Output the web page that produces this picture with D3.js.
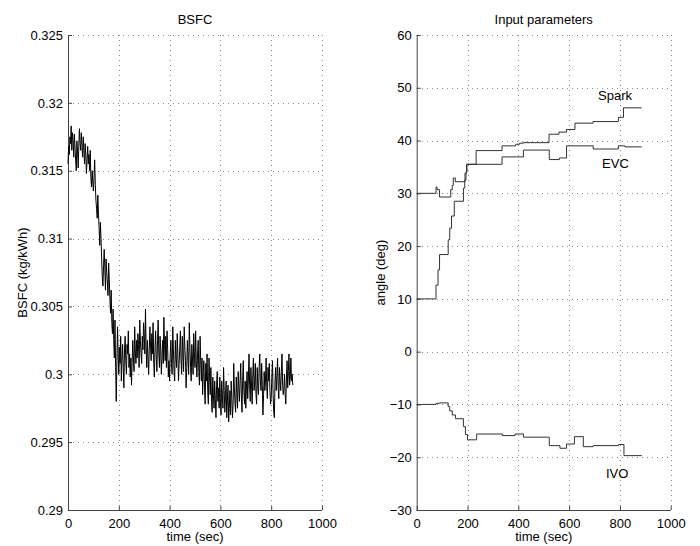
<!DOCTYPE html>
<html>
<head>
<meta charset="utf-8">
<script src="https://cdn.jsdelivr.net/npm/d3@7"></script>
<style>
  html, body { margin: 0; padding: 0; background: #fff; }
  svg { display: block; font-family: "Liberation Sans", Arial, Helvetica, sans-serif; }
</style>
</head>
<body>
<svg id="fig" width="700" height="546"></svg>
<script>
// ---- BSFC trace, sampled every 2.5 s from t = 0 ----
const bsfcStep = 2.5;
const bsfcValues = [
  // 0 - 50 s
  0.3155, 0.3168, 0.3162, 0.3175, 0.3170, 0.3183, 0.3165, 0.3178, 0.3172, 0.3160,
  0.3177, 0.3168, 0.3158, 0.3150, 0.3172, 0.3165, 0.3152, 0.3168, 0.3181, 0.3170, 0.3165,
  // 52.5 - 100 s
  0.3178, 0.3168, 0.3160, 0.3175, 0.3165, 0.3155, 0.3170, 0.3162, 0.3148, 0.3158,
  0.3168, 0.3155, 0.3162, 0.3150, 0.3165, 0.3145, 0.3138, 0.3150, 0.3142, 0.3135,
  // 102.5 - 150 s
  0.3145, 0.3158, 0.3140, 0.3128, 0.3122, 0.3115, 0.3132, 0.3118, 0.3108, 0.3095,
  0.3112, 0.3100, 0.3085, 0.3072, 0.3065, 0.3080, 0.3092, 0.3078, 0.3062, 0.3085,
  // 152.5 - 200 s
  0.3075, 0.3068, 0.3058, 0.3082, 0.3070, 0.3055, 0.3045, 0.3062, 0.3038, 0.3030,
  0.3048, 0.3025, 0.3012, 0.3040, 0.3005, 0.2980, 0.3010, 0.3035, 0.3015, 0.3000,
  // 202.5 - 250 s
  0.3020, 0.3008, 0.3028, 0.2995, 0.3012, 0.3022, 0.3005, 0.2990, 0.3018, 0.3028,
  0.3010, 0.3000, 0.3022, 0.3015, 0.3032, 0.3005, 0.3015, 0.2998, 0.3012, 0.2992,
  // 252.5 - 300 s
  0.3008, 0.3025, 0.3012, 0.3002, 0.3035, 0.3018, 0.3008, 0.3025, 0.3012, 0.3030,
  0.3022, 0.3005, 0.3040, 0.3025, 0.3015, 0.3008, 0.3028, 0.3018, 0.3038, 0.3030,
  // 302.5 - 350 s
  0.3015, 0.3048, 0.3020, 0.3005, 0.3025, 0.3012, 0.3000, 0.3018, 0.3035, 0.3020,
  0.3010, 0.3030, 0.3015, 0.3038, 0.3008, 0.2998, 0.3020, 0.3032, 0.3012, 0.3002,
  // 352.5 - 400 s
  0.3025, 0.3040, 0.3015, 0.3005, 0.3028, 0.3018, 0.3000, 0.3012, 0.3025, 0.3008,
  0.3042, 0.3022, 0.3010, 0.3028, 0.3005, 0.3032, 0.3018, 0.2998, 0.3010, 0.2995,
  // 402.5 - 450 s
  0.3015, 0.3025, 0.3008, 0.3000, 0.3035, 0.3018, 0.3002, 0.2995, 0.3025, 0.3012,
  0.3005, 0.3030, 0.3015, 0.2995, 0.3008, 0.3020, 0.3032, 0.3010, 0.3000, 0.3028,
  // 452.5 - 500 s
  0.3015, 0.3002, 0.3035, 0.3020, 0.3010, 0.2990, 0.3005, 0.3025, 0.3012, 0.3000,
  0.3038, 0.3020, 0.3005, 0.2995, 0.3022, 0.3012, 0.3000, 0.3030, 0.3015, 0.3005,
  // 502.5 - 550 s
  0.3032, 0.3010, 0.2998, 0.3015, 0.3025, 0.3002, 0.2992, 0.3028, 0.3010, 0.2995,
  0.3012, 0.2985, 0.3002, 0.3010, 0.2990, 0.2978, 0.3008, 0.2995, 0.3015, 0.2988,
  // 552.5 - 600 s
  0.2978, 0.3012, 0.2998, 0.2985, 0.3005, 0.2980, 0.2972, 0.2998, 0.2985, 0.2975,
  0.2995, 0.2982, 0.2968, 0.2992, 0.3002, 0.2980, 0.2990, 0.2975, 0.2998, 0.2982,
  // 602.5 - 650 s
  0.2970, 0.2995, 0.2985, 0.2975, 0.3005, 0.2988, 0.2972, 0.2985, 0.2995, 0.2968,
  0.2980, 0.2992, 0.2965, 0.2975, 0.2988, 0.2970, 0.2995, 0.2982, 0.2968, 0.2978,
  // 652.5 - 700 s
  0.3008, 0.2990, 0.2978, 0.2972, 0.2998, 0.2985, 0.2975, 0.3002, 0.2990, 0.2980,
  0.2995, 0.3008, 0.2985, 0.2972, 0.2995, 0.3010, 0.2988, 0.2978, 0.2995, 0.2975,
  // 702.5 - 750 s
  0.2990, 0.3002, 0.2982, 0.2995, 0.3015, 0.2992, 0.2980, 0.3005, 0.2992, 0.2978,
  0.3000, 0.3012, 0.2988, 0.2995, 0.3008, 0.2985, 0.2978, 0.3005, 0.2990, 0.2985,
  // 752.5 - 800 s
  0.3005, 0.3015, 0.2995, 0.2988, 0.3008, 0.2992, 0.2970, 0.2985, 0.3002, 0.2988,
  0.2995, 0.3012, 0.2990, 0.2982, 0.3005, 0.2995, 0.3008, 0.2988, 0.2978, 0.2982,
  // 802.5 - 850 s
  0.2998, 0.3010, 0.2985, 0.2972, 0.2968, 0.2995, 0.3005, 0.2988, 0.2998, 0.3012,
  0.2990, 0.2982, 0.3005, 0.2995, 0.2988, 0.3002, 0.3015, 0.2992, 0.2985, 0.2990,
  // 852.5 - 885 s
  0.3000, 0.2985, 0.2978, 0.2998, 0.3010, 0.2990, 0.3002, 0.3015, 0.2992, 0.2998,
  0.3012, 0.2995, 0.3000, 0.2992
];

// ---- Input parameters: step changes [time (s), angle (deg)] ----
const sparkSteps = [
  [0, 10], [76, 12.6], [84, 15.5], [90, 18.4], [124, 21.2], [130, 23.4], [137, 25.7],
  [148, 28.5], [184, 31.0], [189, 32.5], [194, 34.0], [198, 35.5], [234, 38.1],
  [336, 39.0], [390, 39.3], [405, 39.5], [420, 39.6], [521, 41.2], [560, 41.6],
  [590, 42.1], [623, 43.3], [694, 43.6], [794, 44.4], [814, 46.2], [886, 46.2]
];
const evcSteps = [
  [0, 30.0], [76, 31.2], [80, 30.7], [90, 29.3], [134, 30.7], [140, 31.5], [144, 32.9],
  [152, 32.2], [190, 33.8], [196, 35.5], [336, 36.9], [420, 38.2], [522, 36.4],
  [562, 36.7], [590, 39.0], [695, 38.4], [794, 39.0], [820, 38.8], [886, 38.8]
];
const ivoSteps = [
  [0, -10.0], [76, -9.8], [90, -9.7], [124, -10.4], [130, -11.2], [140, -12.0],
  [153, -12.7], [184, -14.2], [192, -15.7], [200, -16.7], [236, -15.6], [337, -15.9],
  [387, -15.6], [420, -16.2], [522, -17.8], [564, -18.3], [590, -17.5], [621, -16.1],
  [656, -18.0], [695, -17.8], [794, -17.6], [816, -19.7], [886, -19.7]
];

// ---- Tick values and labels ----
const timeTicks = [0, 200, 400, 600, 800, 1000];
const bsfcTicks = [0.29, 0.295, 0.3, 0.305, 0.31, 0.315, 0.32, 0.325];
const bsfcTickLabels = ["0.29", "0.295", "0.3", "0.305", "0.31", "0.315", "0.32", "0.325"];
const angleTicks = [-30, -20, -10, 0, 10, 20, 30, 40, 50, 60];

// Curve annotations [label, time, angle] placed at the text's left baseline
const curveLabels = [["Spark", 714, 47.7], ["EVC", 730, 34.8], ["IVO", 745, -23.9]];

const svg = d3.select("#fig");
const FONT = 13;

function panel(opts) {
  const g = svg.append("g");
  const x = d3.scaleLinear().domain([0, 1000]).range([opts.left, opts.right]);
  const y = d3.scaleLinear().domain(opts.yDomain).range([510, 35]);

  // dotted grid
  const grid = g.append("g").attr("stroke", "#8a8a8a").attr("stroke-width", 1)
    .attr("stroke-dasharray", "1,4").attr("shape-rendering", "crispEdges");
  grid.selectAll("line.v").data(timeTicks.slice(1)).join("line")
    .attr("x1", d => Math.round(x(d)) + 0.5).attr("x2", d => Math.round(x(d)) + 0.5)
    .attr("y1", y.range()[1]).attr("y2", y.range()[0]);
  grid.selectAll("line.h").data(opts.yTicks.slice(1)).join("line")
    .attr("y1", d => Math.round(y(d)) + 0.5).attr("y2", d => Math.round(y(d)) + 0.5)
    .attr("x1", opts.left).attr("x2", opts.right);

  // axes with inward ticks
  const xAxis = d3.axisBottom(x).tickValues(timeTicks).tickSize(-4).tickPadding(9)
    .tickFormat(d3.format("d"));
  const yAxis = d3.axisLeft(y).tickValues(opts.yTicks).tickSize(-4).tickPadding(5)
    .tickFormat((d, i) => opts.yLabels ? opts.yLabels[i] : d3.format("d")(d));

  const gx = g.append("g").attr("transform", `translate(0,${y.range()[0]})`).call(xAxis);
  const gy = g.append("g").attr("transform", `translate(${opts.left},0)`).call(yAxis);
  [gx, gy].forEach(a => {
    a.selectAll("path.domain").attr("stroke", "#444").attr("stroke-width", 1);
    a.selectAll(".tick line").attr("stroke", "#444");
    a.selectAll("text").attr("font-size", FONT).attr("fill", "#000")
      .attr("font-family", '"Liberation Sans", Arial, sans-serif');
  });
  gx.select("path.domain").attr("d", `M${opts.left},0.5H${opts.right}`);
  gy.select("path.domain").attr("d", `M0.5,${y.range()[0]}V${y.range()[1]}`);

  // title and axis labels
  const cx = (opts.left + opts.right) / 2;
  g.append("text").attr("x", cx).attr("y", 24).attr("text-anchor", "middle")
    .attr("font-size", FONT).text(opts.title);
  g.append("text").attr("x", cx).attr("y", 541).attr("text-anchor", "middle")
    .attr("font-size", FONT).text("time (sec)");
  g.append("text")
    .attr("transform", `translate(${opts.yLabelX},${(y.range()[0] + y.range()[1]) / 2}) rotate(-90)`)
    .attr("text-anchor", "middle").attr("font-size", FONT).text(opts.yTitle);

  return { g, x, y };
}

// Left panel: BSFC over time
const left = panel({
  left: 68, right: 322, yDomain: [0.29, 0.325], yTicks: bsfcTicks, yLabels: bsfcTickLabels,
  title: "BSFC", yTitle: "BSFC (kg/kWh)", yLabelX: 27
});
left.g.append("path")
  .datum(bsfcValues)
  .attr("fill", "none").attr("stroke", "#000").attr("stroke-width", 1)
  .attr("stroke-linejoin", "miter")
  .attr("d", d3.line().x((d, i) => left.x(i * bsfcStep)).y(d => left.y(d)));

// Right panel: spark, EVC and IVO timing
const right = panel({
  left: 416.7, right: 670.7, yDomain: [-30, 60], yTicks: angleTicks, yLabels: null,
  title: "Input parameters", yTitle: "angle (deg)", yLabelX: 385
});
const stepLine = d3.line().curve(d3.curveStepAfter)
  .x(d => right.x(d[0])).y(d => right.y(d[1]));
[sparkSteps, evcSteps, ivoSteps].forEach(s => {
  right.g.append("path").datum(s)
    .attr("fill", "none").attr("stroke", "#333").attr("stroke-width", 1)
    .attr("d", stepLine);
});
right.g.selectAll("text.curve").data(curveLabels).join("text")
  .attr("class", "curve")
  .attr("x", d => right.x(d[1])).attr("y", d => right.y(d[2]))
  .attr("font-size", FONT).attr("fill", "#000").text(d => d[0]);
</script>
</body>
</html>
